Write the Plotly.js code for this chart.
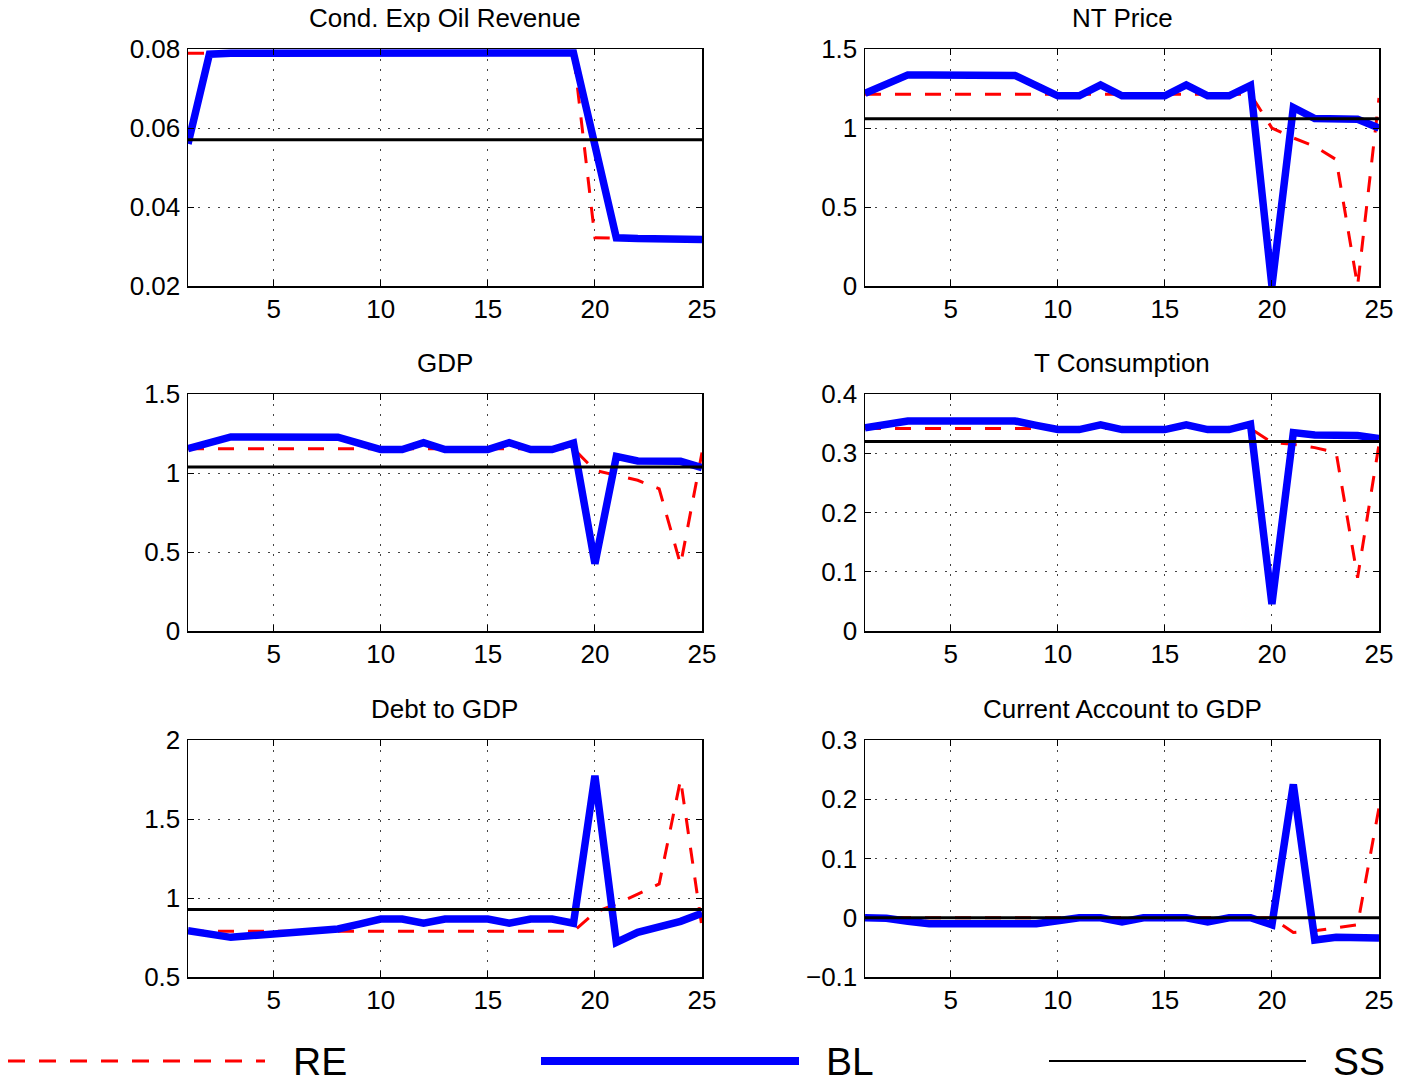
<!DOCTYPE html>
<html>
<head>
<meta charset="utf-8">
<script src="https://cdn.plot.ly/plotly-3.0.1.min.js"></script>
<style>
html, body { margin: 0; padding: 0; background: #fff; }
#chart { width: 1405px; height: 1082px; }
</style>
</head>
<body>
<div id="chart"></div>
<script>
// ---------- data ----------
const periods = [1,2,3,4,5,6,7,8,9,10,11,12,13,14,15,16,17,18,19,20,21,22,23,24,25];
const xTicks = [5,10,15,20,25];
const panelTitles = ["Cond. Exp Oil Revenue", "NT Price", "GDP", "T Consumption", "Debt to GDP", "Current Account to GDP"];
const seriesNames = ["RE", "BL", "SS"];

// Cond. Exp Oil Revenue
const oilRE = [0.0789,0.0789,0.0789,0.0789,0.0789,0.0789,0.0789,0.0789,0.0789,0.0789,0.0789,0.0789,0.0789,0.0789,0.0789,0.0789,0.0789,0.0789,0.0789,0.0322,0.0321,0.0320,0.0320,0.0319,0.0318];
const oilBL = [0.0560,0.0787,0.0789,0.0789,0.0790,0.0790,0.0790,0.0790,0.0790,0.0790,0.0790,0.0790,0.0790,0.0790,0.0790,0.0790,0.0790,0.0790,0.0790,0.0556,0.0322,0.0320,0.0319,0.0319,0.0318];
const oilSS = [0.057,0.057,0.057,0.057,0.057,0.057,0.057,0.057,0.057,0.057,0.057,0.057,0.057,0.057,0.057,0.057,0.057,0.057,0.057,0.057,0.057,0.057,0.057,0.057,0.057];

// NT Price
const ntRE = [1.214,1.214,1.214,1.214,1.214,1.214,1.214,1.214,1.214,1.214,1.214,1.214,1.214,1.214,1.214,1.214,1.214,1.214,1.214,1.0,0.937,0.884,0.80,0.0,1.19];
const ntBL = [1.22,1.278,1.336,1.336,1.336,1.335,1.334,1.333,1.268,1.204,1.204,1.273,1.204,1.204,1.204,1.273,1.204,1.204,1.27,0.0,1.13,1.06,1.058,1.055,1.0];
const ntSS = [1.059,1.059,1.059,1.059,1.059,1.059,1.059,1.059,1.059,1.059,1.059,1.059,1.059,1.059,1.059,1.059,1.059,1.059,1.059,1.059,1.059,1.059,1.059,1.059,1.059];

// GDP
const gdpRE = [1.154,1.154,1.154,1.154,1.154,1.154,1.154,1.154,1.154,1.154,1.154,1.154,1.154,1.154,1.154,1.154,1.154,1.154,1.154,1.017,0.985,0.954,0.90,0.42,1.13];
const gdpBL = [1.154,1.19,1.228,1.228,1.228,1.228,1.228,1.227,1.188,1.148,1.148,1.192,1.148,1.148,1.148,1.192,1.148,1.148,1.19,0.426,1.105,1.076,1.076,1.074,1.034];
const gdpSS = [1.038,1.038,1.038,1.038,1.038,1.038,1.038,1.038,1.038,1.038,1.038,1.038,1.038,1.038,1.038,1.038,1.038,1.038,1.038,1.038,1.038,1.038,1.038,1.038,1.038];

// T Consumption
const tcRE = [0.3416,0.3416,0.3416,0.3416,0.3416,0.3416,0.3416,0.3416,0.3416,0.3416,0.3416,0.3416,0.3416,0.3416,0.3416,0.3416,0.3416,0.3416,0.3416,0.318,0.315,0.3095,0.301,0.09,0.315];
const tcBL = [0.343,0.349,0.3545,0.3545,0.3545,0.3545,0.3545,0.3545,0.347,0.340,0.340,0.348,0.340,0.340,0.340,0.348,0.340,0.340,0.349,0.0455,0.335,0.331,0.331,0.330,0.325];
const tcSS = [0.3197,0.3197,0.3197,0.3197,0.3197,0.3197,0.3197,0.3197,0.3197,0.3197,0.3197,0.3197,0.3197,0.3197,0.3197,0.3197,0.3197,0.3197,0.3197,0.3197,0.3197,0.3197,0.3197,0.3197,0.3197];

// Debt to GDP
const debtRE = [0.789,0.789,0.789,0.789,0.789,0.789,0.789,0.789,0.789,0.789,0.789,0.789,0.789,0.789,0.789,0.789,0.789,0.789,0.789,0.909,0.962,1.025,1.089,1.75,0.814];
const debtBL = [0.793,0.772,0.751,0.762,0.772,0.783,0.793,0.804,0.835,0.867,0.867,0.84,0.867,0.867,0.867,0.84,0.867,0.867,0.84,1.774,0.719,0.783,0.814,0.852,0.903];
const debtSS = [0.928,0.928,0.928,0.928,0.928,0.928,0.928,0.928,0.928,0.928,0.928,0.928,0.928,0.928,0.928,0.928,0.928,0.928,0.928,0.928,0.928,0.928,0.928,0.928,0.928];

// Current Account to GDP
const caRE = [0,0,0,0,0,0,0,0,0,0,0,0,0,0,0,0,0,0,0,0,-0.025,-0.022,-0.017,-0.012,0.186];
const caBL = [0.0,-0.001,-0.006,-0.01,-0.01,-0.01,-0.01,-0.01,-0.01,-0.005,0.0,0.0,-0.007,0.0,0.0,0.0,-0.007,0.0,0.0,-0.012,0.225,-0.0376,-0.033,-0.033,-0.034];
const caSS = [0,0,0,0,0,0,0,0,0,0,0,0,0,0,0,0,0,0,0,0,0,0,0,0,0];

const yRanges = [[0.02,0.08],[0,1.5],[0,1.5],[0,0.4],[0.5,2],[-0.1,0.3]];
const yDticks = [0.02,0.5,0.5,0.1,0.5,0.1];

// ---------- build ----------
const W = 1405, H = 1082;
const panels = [
  [oilRE, oilBL, oilSS], [ntRE, ntBL, ntSS],
  [gdpRE, gdpBL, gdpSS], [tcRE, tcBL, tcSS],
  [debtRE, debtBL, debtSS], [caRE, caBL, caSS]
];
const colPx = [[188, 702], [865, 1379]];
const rowPx = [[49, 286], [394, 631], [740, 977]];

const styles = [
  {color: '#ff0000', width: 3, dash: '16px,14px'},
  {color: '#0000ff', width: 7.5, dash: 'solid'},
  {color: '#000000', width: 3, dash: 'solid'}
];

const font = "Liberation Sans, Arial, Helvetica, sans-serif";
const traces = [];
const layout = {
  width: W, height: H,
  margin: {l: 0, r: 0, t: 0, b: 0},
  paper_bgcolor: '#ffffff', plot_bgcolor: '#ffffff',
  showlegend: false,
  font: {family: font, size: 26, color: '#000'},
  annotations: [], shapes: []
};

panels.forEach((p, i) => {
  const col = i % 2, row = Math.floor(i / 2);
  const xa = 'x' + (i === 0 ? '' : i + 1), ya = 'y' + (i === 0 ? '' : i + 1);
  const xk = 'xaxis' + (i === 0 ? '' : i + 1), yk = 'yaxis' + (i === 0 ? '' : i + 1);
  const xd = [colPx[col][0] / W, colPx[col][1] / W];
  const yd = [1 - rowPx[row][1] / H, 1 - rowPx[row][0] / H];
  p.forEach((vals, s) => {
    traces.push({
      x: periods, y: vals, xaxis: xa, yaxis: ya, name: seriesNames[s],
      type: 'scatter', mode: 'lines', line: styles[s], hoverinfo: 'skip'
    });
  });
  const common = {
    showline: true, mirror: 'ticks', linecolor: '#000', linewidth: 1.5,
    ticks: 'inside', ticklen: 6, tickwidth: 1, tickcolor: '#000',
    showgrid: true, gridcolor: '#444', gridwidth: 1, griddash: '2px,8px',
    zeroline: false, tickfont: {family: font, size: 26, color: '#000'}
  };
  layout[xk] = Object.assign({}, common, {
    domain: xd, anchor: ya, range: [1, 25], tickvals: xTicks, ticklabelstandoff: -1
  });
  layout[yk] = Object.assign({}, common, {
    domain: yd, anchor: xa, range: yRanges[i], dtick: yDticks[i], tick0: yRanges[i][0], ticklabelstandoff: 1
  });
  layout.annotations.push({
    text: panelTitles[i], xref: 'paper', yref: 'paper',
    x: (xd[0] + xd[1]) / 2, y: yd[1], xanchor: 'center', yanchor: 'bottom', yshift: 14,
    showarrow: false, font: {family: font, size: 26, color: '#000'}
  });
});

// legend drawn at bottom
const legY = 1 - 1061 / H;
const legLines = [[8, 265], [541, 799], [1049, 1306]];
const legWidths = [3, 8, 2];
const legText = [291, 824, 1331];
seriesNames.forEach((n, s) => {
  layout.shapes.push({
    type: 'line', xref: 'paper', yref: 'paper',
    x0: legLines[s][0] / W, x1: legLines[s][1] / W, y0: legY, y1: legY,
    line: {color: styles[s].color, width: legWidths[s], dash: s === 0 ? '17px,14px' : 'solid'}
  });
  layout.annotations.push({
    text: n, xref: 'paper', yref: 'paper', x: legText[s] / W, y: legY,
    xanchor: 'left', yanchor: 'middle', showarrow: false,
    font: {family: font, size: 39, color: '#000'}
  });
});

Plotly.newPlot('chart', traces, layout, {staticPlot: true, displayModeBar: false});
</script>
</body>
</html>
